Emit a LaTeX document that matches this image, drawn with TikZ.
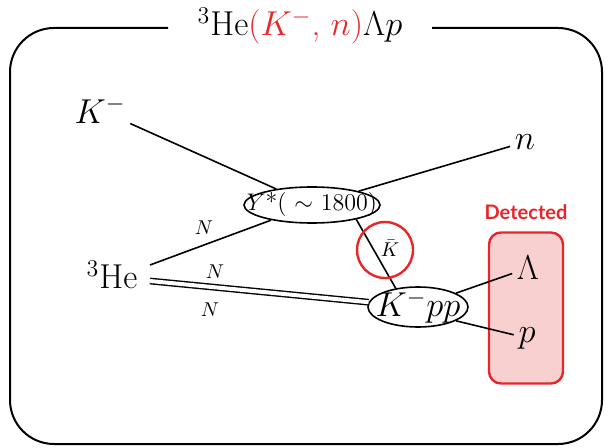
\documentclass[tikz,border=0pt]{standalone}
\usepackage{fontspec}
\newfontfamily\detectfont{Lato}
\usetikzlibrary{shapes.geometric}

\begin{document}
\begin{tikzpicture}[x=0.5pt, y=-0.5pt, line width=0.8pt,
    vertex/.style={draw, ellipse, inner sep=0pt},
    particle/.style={font=\LARGE, inner sep=2pt},
    nucleon/.style={font=\normalsize, inner sep=1pt}]
    % Define colours
    \definecolor{markColour}{HTML}{E8262A}
    \definecolor{boxColour}{HTML}{F8D0D0}

    % Fix the picture size
    \useasboundingbox (0,0) rectangle (609,448);

    % Draw outer frame, with a gap for the title
    \draw[line width=1pt, rounded corners=22pt] (168,28) -- (10,28) -- (10,444) -- (602,444) -- (602,28) -- (432,28);
    \node[font=\LARGE] (title) at (300,26) {$^{3}$He\textcolor{markColour}{($K^{-}$, $n$)}$\Lambda p$};

    % Detected box (drawn first, labels sit on it)
    \node[draw=markColour, fill=boxColour, line width=1.2pt, rounded corners=6pt,
          minimum width=37pt, minimum height=75.5pt] (detbox) at (526,308) {};
    \node[text=markColour, font=\detectfont\bfseries] (detected) at (526,212) {Detected};

    % Define the vertices
    \node[vertex, minimum width=68pt, minimum height=18pt,
          label={center:{\large $Y$*( $\sim$ 1800)}}] (ystar) at (312,205) {};
    \node[vertex, minimum width=50pt, minimum height=20pt,
          label={center:{\LARGE $K^{-}pp$}}] (kpp) at (418,307) {};

    % Define the particles
    \node[particle] (km) at (100,110) {$K^{-}$};
    \node[particle] (n) at (525,142) {$n$};
    \node[particle] (he) at (112,275) {$^{3}$He};
    \node[particle] (lam) at (528,268) {$\Lambda$};
    \node[particle] (p) at (527,338) {$p$};
    \coordinate (heTop) at (150,265);
    \coordinate (heBot) at (150,281);

    % Draw the lines
    \draw (km) -- (ystar);
    \draw (ystar) -- (n);
    \draw (heTop) -- (ystar);
    \draw[double, double distance=2pt, line width=0.7pt] (heBot) -- (kpp);
    \draw (ystar.-18) -- (kpp.140);
    \draw (kpp.20) -- (lam);
    \draw (kpp.-20) -- (p);

    % Label the lines
    \node[nucleon] (n1) at (204,228) {$N$};
    \node[nucleon] (n2) at (215,272) {$N$};
    \node[nucleon] (n3) at (210,310) {$N$};
    \node[nucleon] (kbar) at (390,248) {$\bar{K}$};

    % Mark the exchanged antikaon
    \draw[markColour, line width=1.2pt] (385,250) circle[radius=14pt];

\end{tikzpicture}
\end{document}
